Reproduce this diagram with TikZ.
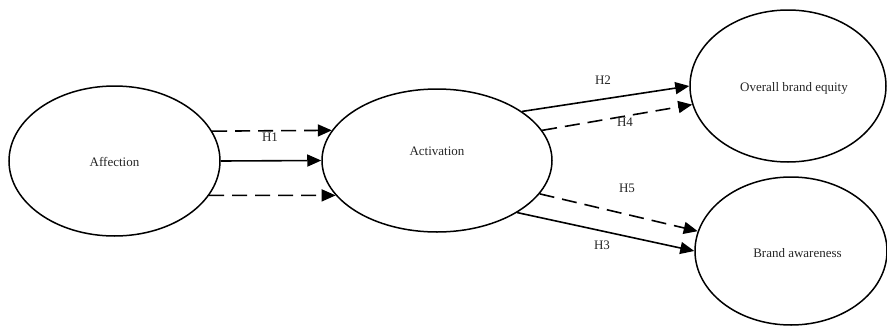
\documentclass[tikz,border=0pt]{standalone}
\usepackage{fontspec}
\setmainfont{Liberation Serif}
\usetikzlibrary{shapes.geometric,arrows.meta}
\begin{document}
\begin{tikzpicture}[x=1pt,y=-1pt,
  txt/.style={font=\fontsize{13}{15}\selectfont,text=black!85,inner sep=0pt},
  construct/.style={draw,ellipse,line width=1.5pt,inner sep=0pt},
  path/.style={line width=1.6pt,-{Triangle[length=14pt,width=12pt]}},
  dashpath/.style={path,dash pattern=on 15pt off 8pt}]
\useasboundingbox (0,0) rectangle (887,327);
\clip (0,0) rectangle (887,327);
\node[construct,minimum width=211pt,minimum height=150pt,
  label={[txt,yshift=-1pt]center:Affection}] (aff) at (114.5,161) {};
\node[construct,minimum width=230pt,minimum height=143pt,
  label={[txt,yshift=9.5pt]center:Activation}] (act) at (437,160.5) {};
\node[construct,minimum width=196pt,minimum height=152pt,
  label={[txt,xshift=6pt,yshift=-2pt]center:Overall brand equity}] (obe) at (788,86) {};
\node[construct,minimum width=192pt,minimum height=148pt,
  label={[txt,xshift=6.5pt,yshift=-2pt]center:Brand awareness}] (ba) at (791,251) {};

\draw[dashpath] (aff.17) -- (act.164);
\draw[path] (aff.east) -- (act.west);
\draw[dashpath] (aff.-20) -- (act.199);
\draw[path] (act.30.5) -- (obe.180);
\draw[dashpath] (act.16) -- (obe.191);
\draw[dashpath] (act.-18.5) -- (ba.168);
\draw[path] (act.-33) -- (ba.180);

\node[txt] (h1) at (270,137.5) {H1};
\node[txt] (h2) at (603,80) {H2};
\node[txt] (h4) at (625,122) {H4};
\node[txt] (h5) at (627,188) {H5};
\node[txt] (h3) at (602,245) {H3};
\end{tikzpicture}
\end{document}
